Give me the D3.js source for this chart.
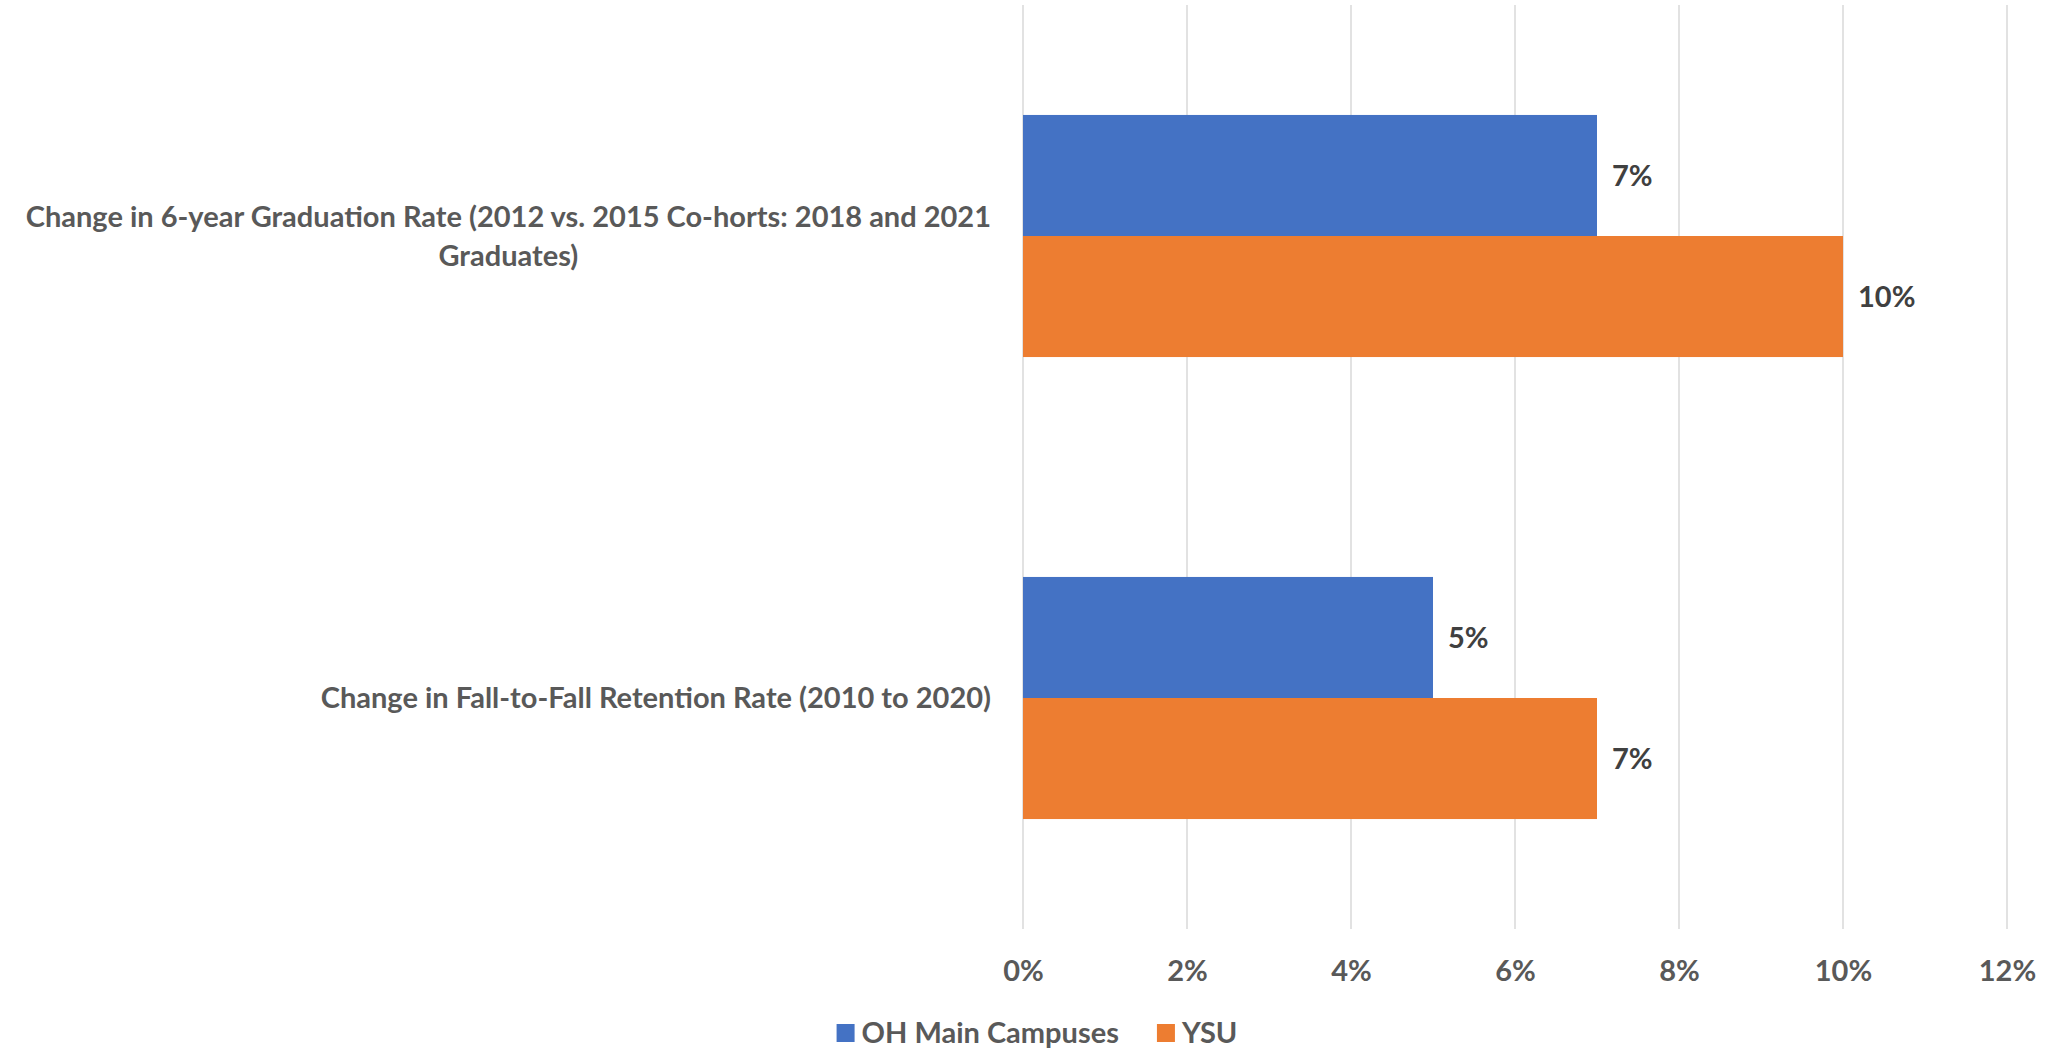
<!DOCTYPE html>
<html>
<head>
<meta charset="utf-8">
<script src="https://cdn.jsdelivr.net/npm/d3@7"></script>
<style>
  html, body { margin: 0; padding: 0; background: #fff; }
  svg text { font-family: Lato, "Open Sans", sans-serif; font-weight: bold; }
</style>
</head>
<body>
<div id="chart"></div>
<script>
// chart data
const categories = ['graduation', 'retention'];
const categoryLines = [
  ['Change in 6-year Graduation Rate (2012 vs. 2015 Co-horts: 2018 and 2021', 'Graduates)'],
  ['Change in Fall-to-Fall Retention Rate (2010 to 2020)'],
];
const seriesNames = ['OH Main Campuses', 'YSU'];
const ohMainValues = [7, 5];
const ysuValues = [10, 7];
const xTickValues = [0, 2, 4, 6, 8, 10, 12];

const colors = { 'OH Main Campuses': '#4472C4', YSU: '#ED7D31' };
const fontSize = '29px';

const width = 2052;
const height = 1051;
const margin = { top: 5, left: 1023, bottom: 122, right: 45 };

const svg = d3
  .select('#chart')
  .append('svg')
  .attr('width', width)
  .attr('height', height);

const x = d3
  .scaleLinear()
  .domain([0, 12])
  .range([margin.left, width - margin.right]);

const y = d3
  .scaleBand()
  .domain(categories)
  .range([margin.top, height - margin.bottom])
  .paddingInner(0.476)
  .paddingOuter(0.238);

const ySub = d3.scaleBand().domain(seriesNames).range([0, y.bandwidth()]);

// gridlines
svg
  .append('g')
  .selectAll('line')
  .data(xTickValues)
  .join('line')
  .attr('x1', (d) => x(d))
  .attr('x2', (d) => x(d))
  .attr('y1', margin.top)
  .attr('y2', height - margin.bottom)
  .attr('stroke', '#d9d9d9')
  .attr('stroke-width', 1.5);

// x axis labels
const xAxis = (g) =>
  g
    .attr('transform', `translate(0, ${height - margin.bottom})`)
    .call(
      d3
        .axisBottom(x)
        .tickValues(xTickValues)
        .tickFormat((d) => d + '%')
        .tickSize(0),
    )
    .call((g) => g.select('.domain').remove())
    .call((g) =>
      g
        .selectAll('.tick text')
        .attr('y', 42)
        .attr('dy', '0.35em')
        .attr('fill', '#595959')
        .style('font-size', fontSize),
    );

svg.append('g').call(xAxis);

// rows of data
const rows = categories.map((c, i) => ({
  category: c,
  values: [
    { series: 'OH Main Campuses', value: ohMainValues[i] },
    { series: 'YSU', value: ysuValues[i] },
  ],
}));

const groups = svg
  .append('g')
  .selectAll('g')
  .data(rows)
  .join('g')
  .attr('transform', (d) => `translate(0, ${y(d.category)})`);

groups
  .selectAll('rect')
  .data((d) => d.values)
  .join('rect')
  .attr('x', x(0))
  .attr('y', (d) => ySub(d.series))
  .attr('width', (d) => x(d.value) - x(0))
  .attr('height', ySub.bandwidth())
  .attr('fill', (d) => colors[d.series]);

groups
  .selectAll('text.value')
  .data((d) => d.values)
  .join('text')
  .attr('class', 'value')
  .attr('x', (d) => x(d.value) + 15)
  .attr('y', (d) => ySub(d.series) + ySub.bandwidth() / 2)
  .attr('dy', '0.35em')
  .attr('fill', '#404040')
  .style('font-size', fontSize)
  .text((d) => d.value + '%');

// category labels (wrapped, centred lines, right edge near the axis)
const labelRight = x(0) - 32;
categories.forEach((c, i) => {
  const lines = categoryLines[i];
  const lineHeight = 39;
  const cy = y(c) + y.bandwidth() / 2;
  const t = svg
    .append('text')
    .attr('fill', '#595959')
    .style('font-size', fontSize)
    .attr('text-anchor', 'middle');
  lines.forEach((line, j) => {
    t.append('tspan')
      .attr('y', cy + (j - (lines.length - 1) / 2) * lineHeight)
      .attr('dy', '0.35em')
      .text(line);
  });
  // widest line ends at labelRight
  let maxW = 0;
  t.selectAll('tspan').each(function () {
    maxW = Math.max(maxW, this.getComputedTextLength());
  });
  t.selectAll('tspan').attr('x', labelRight - maxW / 2);
});

// legend
const legend = svg.append('g').attr('transform', `translate(0, ${height - 18})`);
const items = legend
  .selectAll('g')
  .data(seriesNames)
  .join('g');
items
  .append('rect')
  .attr('y', -9)
  .attr('width', 18)
  .attr('height', 18)
  .attr('fill', (d) => colors[d]);
items
  .append('text')
  .attr('x', 25)
  .attr('dy', '0.35em')
  .attr('fill', '#595959')
  .style('font-size', fontSize)
  .text((d) => d);

let offset = 0;
const positions = [];
items.each(function () {
  positions.push(offset);
  offset += this.getBBox().width + 38;
});
const legendWidth = offset - 38;
const legendStart = 1037 - legendWidth / 2;
items.attr('transform', (d, i) => `translate(${legendStart + positions[i]}, 0)`);
</script>
</body>
</html>
